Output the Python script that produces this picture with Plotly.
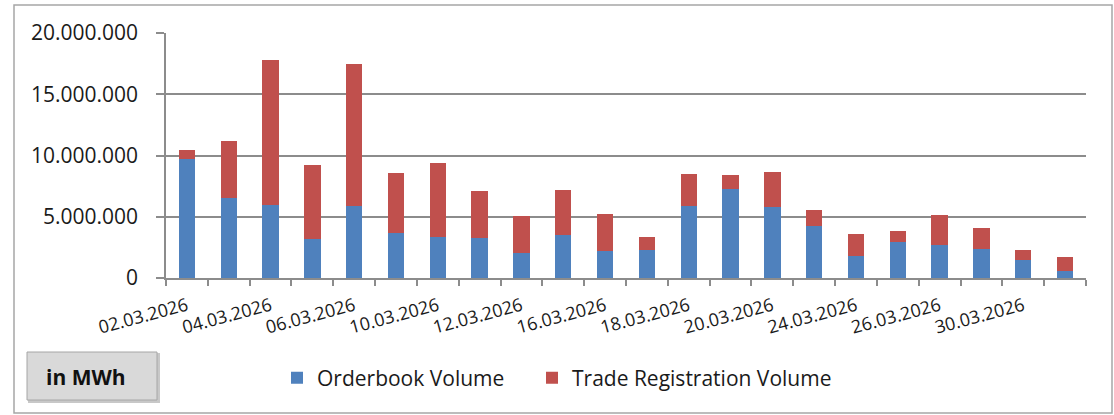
import plotly.graph_objects as go

dates = ["02.03.2026", "03.03.2026", "04.03.2026", "05.03.2026", "06.03.2026",
         "09.03.2026", "10.03.2026", "11.03.2026", "12.03.2026", "13.03.2026",
         "16.03.2026", "17.03.2026", "18.03.2026", "19.03.2026", "20.03.2026",
         "23.03.2026", "24.03.2026", "25.03.2026", "26.03.2026", "27.03.2026",
         "30.03.2026", "31.03.2026"]

totals = [10450000, 11180000, 17800000, 9260000, 17500000,
          8550000, 9390000, 7080000, 5090000, 7220000,
          5200000, 3350000, 8490000, 8440000, 8690000,
          5550000, 3570000, 3870000, 5120000, 4060000,
          2260000, 1690000]

orderbook = [9690000, 6530000, 5930000, 3180000, 5910000,
             3640000, 3320000, 3270000, 2070000, 3490000,
             2180000, 2320000, 5850000, 7270000, 5770000,
             4270000, 1770000, 2910000, 2720000, 2400000,
             1500000, 570000]

trade_registration = [t - o for t, o in zip(totals, orderbook)]

tick_text = [d if i % 2 == 0 else "" for i, d in enumerate(dates)]
y_ticks = [0, 5000000, 10000000, 15000000, 20000000]

W, H = 1114, 415
L, R, T, B = 166, 1086, 33, 278


def px_x(p):
    return (p - L) / (R - L)


def px_y(p):
    return (B - p) / (B - T)


FONT = "Open Sans"
BLUE = "#4F81BD"
RED = "#C0504D"
GRID = "#8c8c8c"
TEXT = "#1a1a1a"

fig = go.Figure()
fig.add_trace(go.Bar(x=dates, y=orderbook, name="Orderbook Volume",
                     marker=dict(color=BLUE, line=dict(width=0)), legend="legend"))
fig.add_trace(go.Bar(x=dates, y=trade_registration, name="Trade Registration Volume",
                     marker=dict(color=RED, line=dict(width=0)), legend="legend2"))

legend_common = dict(orientation="h", xanchor="left", yanchor="middle",
                     xref="paper", yref="paper",
                     font=dict(family=FONT, size=21, color=TEXT),
                     bgcolor="rgba(0,0,0,0)")

fig.update_layout(
    width=W, height=H,
    barmode="stack", bargap=0.61,
    separators=",.",
    paper_bgcolor="white", plot_bgcolor="white",
    margin=dict(l=L, r=W - R, t=T, b=H - B, pad=0),
    font=dict(family=FONT, color=TEXT),
    showlegend=True,
    legend=dict(x=px_x(277), y=px_y(378), **legend_common),
    legend2=dict(x=px_x(532), y=px_y(378), **legend_common),
    xaxis=dict(
        type="category",
        tickmode="array", tickvals=dates, ticktext=tick_text,
        tickangle=-15, tickson="boundaries",
        ticks="outside", ticklen=6, tickcolor=GRID, tickwidth=1.5,
        showline=True, linecolor=GRID, linewidth=1.5,
        showgrid=False,
        ticklabelstandoff=9,
        tickfont=dict(family=FONT, size=18, color=TEXT),
    ),
    yaxis=dict(
        range=[0, 20000000],
        tickmode="array", tickvals=y_ticks,
        tickformat=",.0f",
        ticks="outside", ticklen=8, tickcolor=GRID, tickwidth=1.5,
        showline=True, linecolor=GRID, linewidth=1.5,
        showgrid=True, gridcolor=GRID, gridwidth=1.5,
        zeroline=False,
        ticklabelstandoff=14,
        tickfont=dict(family=FONT, size=21, color=TEXT),
    ),
    shapes=[
        dict(type="rect", xref="paper", yref="paper",
             x0=px_x(14), x1=px_x(1112), y0=px_y(413), y1=px_y(5),
             line=dict(color="#a6a6a6", width=1.5), fillcolor="rgba(0,0,0,0)", layer="below"),
        dict(type="rect", xref="paper", yref="paper",
             x0=px_x(29), x1=px_x(159), y0=px_y(402), y1=px_y(354),
             line=dict(color="#c8c8c8", width=2), fillcolor="#c8c8c8", layer="below"),
        dict(type="rect", xref="paper", yref="paper",
             x0=px_x(27), x1=px_x(157), y0=px_y(400), y1=px_y(352),
             line=dict(color="#a6a6a6", width=1), fillcolor="#d9d9d9", layer="below"),
    ],
    annotations=[
        dict(text="<b>in MWh</b>", xref="paper", yref="paper",
             x=px_x(86), y=px_y(377), xanchor="center", yanchor="middle",
             showarrow=False, font=dict(family=FONT, size=21, color="#111111")),
    ],
)

fig.write_html("out.html", config={"displayModeBar": False},
               post_script="document.body.style.margin='0';document.body.style.padding='0';")
